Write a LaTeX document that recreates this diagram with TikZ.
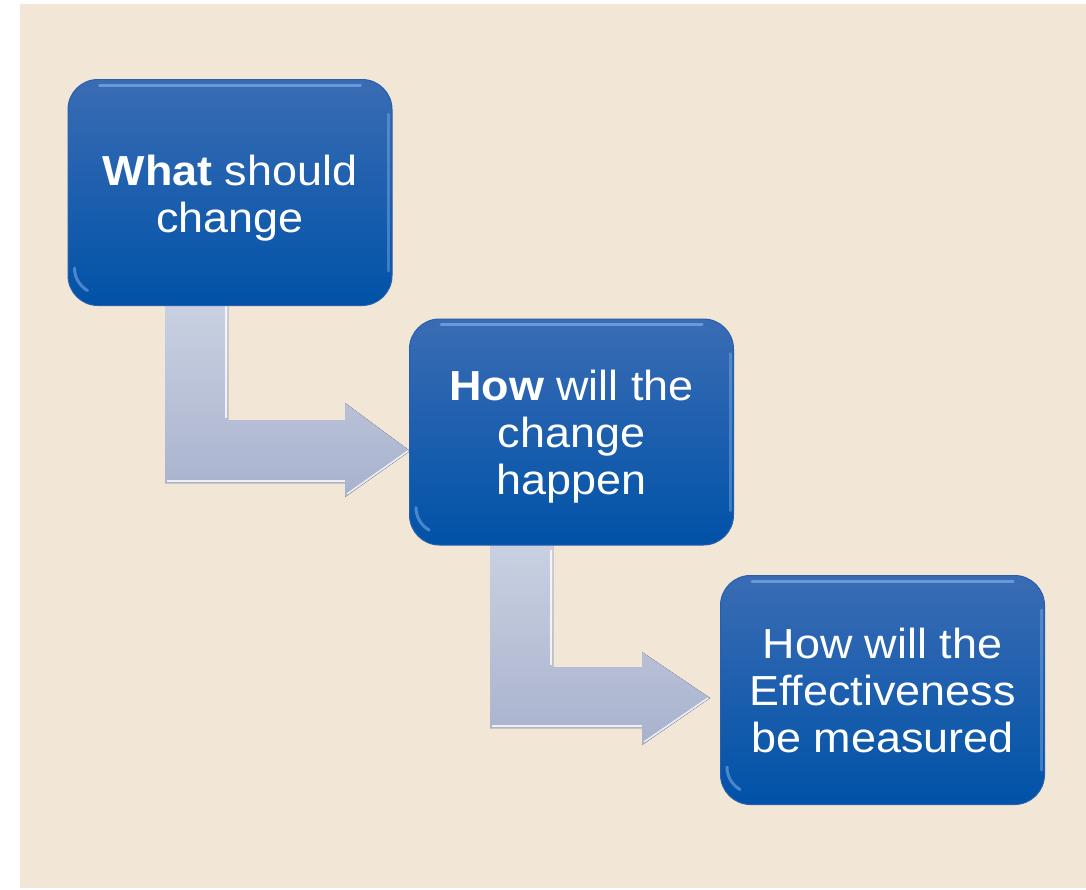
\documentclass[tikz,border=0pt]{standalone}
\usepackage{fontspec}
\setmainfont[FakeStretch=1.07]{Liberation Sans}
\definecolor{bg}{RGB}{242,230,215}
\definecolor{boxtop}{RGB}{58,108,180}
\definecolor{boxbot}{RGB}{0,82,168}
\definecolor{boxedge}{RGB}{40,95,170}
\definecolor{hl}{RGB}{140,185,240}
\definecolor{arrtop}{RGB}{202,209,226}
\definecolor{arrbot}{RGB}{168,178,205}
\tikzset{
  stepbox/.style={rectangle, rounded corners=30pt, minimum width=324pt, minimum height=226pt,
    top color=boxtop, bottom color=boxbot, draw=boxedge, line width=1pt, inner sep=0pt},
  steptext/.style={text=white, align=center, font=\fontsize{42pt}{47pt}\selectfont, inner sep=0pt},
  bentarrow/.style={top color=arrtop, bottom color=arrbot, draw=none},
  bevel/.style={draw=white, line width=2pt, opacity=0.8},
  boxhl/.style={draw=hl, line width=3pt, opacity=0.6, line cap=round}
}
\begin{document}
\begin{tikzpicture}[x=1pt,y=-1pt]
\useasboundingbox (0,0) rectangle (1086,889);
\fill[white] (0,0) rectangle (1086,889);
\fill[bg] (20,4) rectangle (1086,888);
% bent arrows
\fill[bentarrow] (165,300) -- (228,300) -- (228,420) -- (345,420) -- (345,403) -- (410,451) -- (345,497) -- (345,483) -- (165,483) -- cycle;
\draw[bevel] (226,306) -- (226,418);
\draw[bevel] (167,481) -- (345,481);
\draw[bevel, line width=1.5pt] (347,494) -- (408,451);
\fill[bentarrow] (490,540) -- (553,540) -- (553,667) -- (642,667) -- (642,652) -- (710,698) -- (642,745) -- (642,728) -- (490,728) -- cycle;
\draw[bevel] (551,550) -- (551,665);
\draw[bevel] (492,726) -- (642,726);
\draw[bevel, line width=1.5pt] (644,742) -- (708,698);
% boxes
\node[stepbox] (b1) at (230,192.5) {};
\node[stepbox] (b2) at (571.5,432) {};
\node[stepbox, minimum height=229pt] (b3) at (882.5,690) {};
\foreach \b in {b1,b2,b3}{
  \draw[boxhl] ([xshift=32pt,yshift=-6pt]\b.north west) -- ([xshift=-32pt,yshift=-6pt]\b.north east);
  \draw[boxhl, opacity=0.4] ([xshift=-4pt,yshift=-35pt]\b.north east) -- ([xshift=-4pt,yshift=35pt]\b.south east);
  \draw[boxhl, opacity=0.5] ([xshift=7pt,yshift=38pt]\b.south west) arc[start angle=180,end angle=240,radius=26pt];
}
\node[steptext] (t1) at ([yshift=-6pt]b1.center) {\textbf{What} should\\change};
\node[steptext] (t2) at ([yshift=-5pt]b2.center) {\textbf{How} will the\\change\\happen};
\node[steptext] (t3) at ([yshift=0pt]b3.center) {How will the\\Effectiveness\\be measured};
\end{tikzpicture}
\end{document}
